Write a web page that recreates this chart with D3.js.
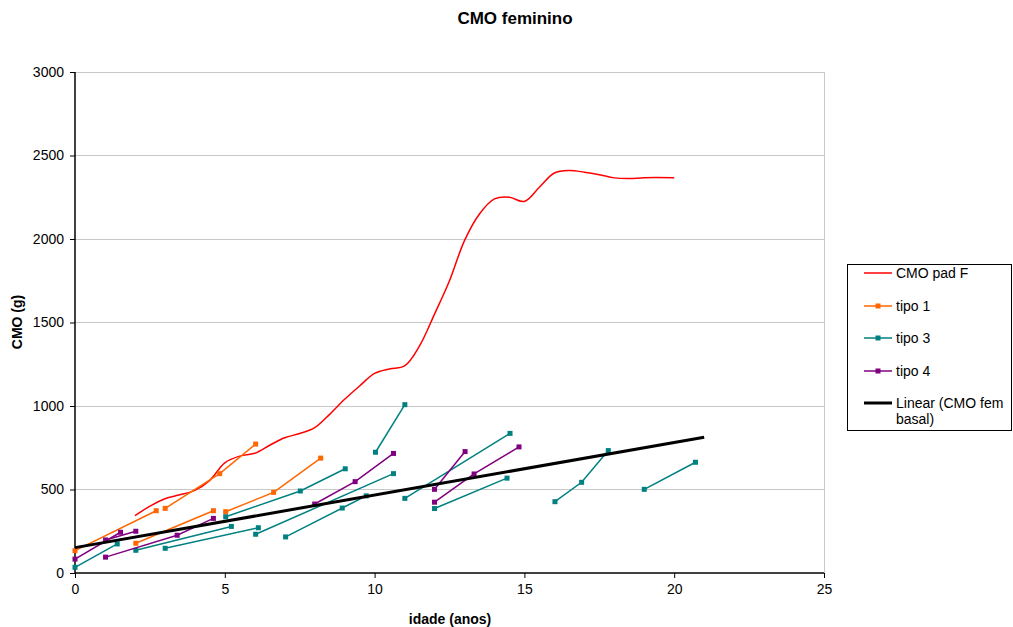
<!DOCTYPE html>
<html>
<head>
<meta charset="utf-8">
<script src="https://cdn.jsdelivr.net/npm/d3@7"></script>
<style>
  html, body { margin: 0; padding: 0; background: #fff; }
  svg { display: block; font-family: "Liberation Sans", Arial, Helvetica, sans-serif; }
</style>
</head>
<body>
<svg id="chart" width="1013" height="627"></svg>
<script>
// ---------- data ----------
const chartTitle = "CMO feminino";
const xAxisTitle = "idade (anos)";
const yAxisTitle = "CMO (g)";
const xTicks = [0, 5, 10, 15, 20, 25];
const yTicks = [0, 500, 1000, 1500, 2000, 2500, 3000];

// CMO pad F (smoothed reference curve): [age, value]
const padAge = [2, 2.5, 3, 3.5, 4, 4.5, 5, 5.5, 6, 6.5, 7, 7.5, 8, 8.5, 9, 9.5, 10, 10.5, 11, 11.5, 12, 12.5, 13, 13.5, 14, 14.5, 15, 15.5, 16, 16.5, 17, 17.5, 18, 18.5, 19, 20];
const padValue = [343, 400, 445, 468, 495, 555, 660, 700, 717, 765, 810, 835, 870, 950, 1040, 1120, 1195, 1222, 1240, 1360, 1550, 1750, 1990, 2150, 2240, 2250, 2225, 2310, 2395, 2410, 2400, 2385, 2366, 2362, 2367, 2367];

// tipo 1 individuals: each is a list of [age, value]
const tipo1 = [
  [[0, 134], [2.71, 373]],
  [[3.01, 387], [4.83, 595], [6.03, 772]],
  [[2.03, 178], [4.62, 373]],
  [[5.03, 367], [6.63, 483], [8.2, 688]]
];
// tipo 3 individuals
const tipo3 = [
  [[0, 34], [1.41, 174]],
  [[2.03, 136], [5.22, 279]],
  [[3.01, 148], [6.12, 271]],
  [[5.03, 337], [7.52, 491], [9.02, 624]],
  [[6.03, 232], [10.63, 595]],
  [[7.03, 216], [8.92, 389], [9.72, 462]],
  [[10.03, 723], [11.01, 1008]],
  [[11.01, 447], [14.52, 836]],
  [[12.0, 386], [14.42, 568]],
  [[16.02, 427], [16.91, 543], [17.8, 733]],
  [[19.0, 501], [20.71, 663]]
];
// tipo 4 individuals
const tipo4 = [
  [[0, 83], [1.52, 244]],
  [[1.02, 198], [2.03, 250]],
  [[1.02, 95], [3.41, 226], [4.62, 327]],
  [[8.0, 413], [9.35, 547], [10.63, 716]],
  [[12.0, 501], [13.02, 727]],
  [[12.0, 424], [13.32, 593], [14.82, 755]]
];
// Linear trend (CMO fem basal)
const trendAge = [0, 21];
const trendValue = [152, 813];

const legendLabels = ["CMO pad F", "tipo 1", "tipo 3", "tipo 4", "Linear (CMO fem", "basal)"];
const colors = { pad: "#ff0000", t1: "#ff6600", t3: "#008080", t4: "#800080", trend: "#000000" };

// ---------- layout ----------
const svg = d3.select("#chart");
const plot = { left: 75, top: 72, right: 824, bottom: 573 };

const x = d3.scaleLinear().domain([0, 25]).range([plot.left, plot.right]);
const y = d3.scaleLinear().domain([0, 3000]).range([plot.bottom, plot.top]);

// gridlines
svg.append("g")
  .selectAll("line").data(yTicks.filter(d => d > 0)).join("line")
  .attr("x1", plot.left).attr("x2", plot.right)
  .attr("y1", d => y(d)).attr("y2", d => y(d))
  .attr("stroke", "#c8c8c8").attr("stroke-width", 1).attr("shape-rendering", "crispEdges");

// right plot border
svg.append("line")
  .attr("x1", plot.right).attr("x2", plot.right)
  .attr("y1", plot.top).attr("y2", plot.bottom)
  .attr("stroke", "#c8c8c8").attr("stroke-width", 1).attr("shape-rendering", "crispEdges");

// axes
const xAxis = d3.axisBottom(x).tickValues(xTicks).tickSize(5).tickPadding(6).tickFormat(d3.format("d"));
const yAxis = d3.axisLeft(y).tickValues(yTicks).tickSize(5).tickPadding(6).tickFormat(d3.format("d"));

const gx = svg.append("g").attr("transform", `translate(0,${plot.bottom})`).call(xAxis);
const gy = svg.append("g").attr("transform", `translate(${plot.left},0)`).call(yAxis);
[gx, gy].forEach(g => {
  g.select(".domain").attr("stroke", "#000").attr("stroke-width", 1.5);
  g.selectAll(".tick line").attr("stroke", "#000");
  g.selectAll(".tick text").attr("fill", "#000").attr("font-size", 14)
    .attr("font-family", "'Liberation Sans', Arial, sans-serif");
});
gx.select(".domain").attr("d", `M${plot.left},0H${plot.right}`);
gy.select(".domain").attr("d", `M0,${plot.bottom}V${plot.top}`);

// titles
svg.append("text").attr("x", 515).attr("y", 24).attr("text-anchor", "middle")
  .attr("font-size", 17).attr("font-weight", "bold").text(chartTitle);
svg.append("text").attr("x", 450).attr("y", 624).attr("text-anchor", "middle")
  .attr("font-size", 14).attr("font-weight", "bold").text(xAxisTitle);
svg.append("text").attr("transform", `translate(22,322) rotate(-90)`).attr("text-anchor", "middle")
  .attr("font-size", 14).attr("font-weight", "bold").text(yAxisTitle);

// ---------- marks ----------
const line = d3.line().x(d => x(d[0])).y(d => y(d[1]));
const smooth = d3.line().x(d => x(d[0])).y(d => y(d[1])).curve(d3.curveCatmullRom.alpha(0.5));

// pad F curve
svg.append("path")
  .datum(padAge.map((a, i) => [a, padValue[i]]))
  .attr("d", smooth).attr("fill", "none")
  .attr("stroke", colors.pad).attr("stroke-width", 1.5);

function drawSeries(data, color) {
  const g = svg.append("g");
  g.selectAll("path").data(data).join("path")
    .attr("d", line).attr("fill", "none")
    .attr("stroke", color).attr("stroke-width", 1.5);
  g.selectAll("rect").data(data.flat()).join("rect")
    .attr("x", d => x(d[0]) - 2.5).attr("y", d => y(d[1]) - 2.5)
    .attr("width", 5).attr("height", 5).attr("fill", color);
}
drawSeries(tipo1, colors.t1);
drawSeries(tipo3, colors.t3);
drawSeries(tipo4, colors.t4);

// trend line
svg.append("path")
  .datum(trendAge.map((a, i) => [a, trendValue[i]]))
  .attr("d", line).attr("fill", "none")
  .attr("stroke", colors.trend).attr("stroke-width", 3);

// ---------- legend ----------
const lg = svg.append("g");
lg.append("rect").attr("x", 847.5).attr("y", 264.5).attr("width", 164).attr("height", 166)
  .attr("fill", "#fff").attr("stroke", "#000").attr("stroke-width", 1);
const legendRows = [
  { label: legendLabels[0], color: colors.pad, marker: false, w: 1.5, y: 273 },
  { label: legendLabels[1], color: colors.t1, marker: true, w: 1.5, y: 306 },
  { label: legendLabels[2], color: colors.t3, marker: true, w: 1.5, y: 338 },
  { label: legendLabels[3], color: colors.t4, marker: true, w: 1.5, y: 371 },
  { label: legendLabels[4], color: colors.trend, marker: false, w: 3, y: 403 }
];
legendRows.forEach(r => {
  lg.append("line").attr("x1", 864).attr("x2", 892).attr("y1", r.y).attr("y2", r.y)
    .attr("stroke", r.color).attr("stroke-width", r.w);
  if (r.marker) lg.append("rect").attr("x", 875.5).attr("y", r.y - 2.5).attr("width", 5).attr("height", 5).attr("fill", r.color);
  lg.append("text").attr("x", 896).attr("y", r.y + 5).attr("font-size", 14).text(r.label);
});
lg.append("text").attr("x", 896).attr("y", 424).attr("font-size", 14).text(legendLabels[5]);
</script>
</body>
</html>
